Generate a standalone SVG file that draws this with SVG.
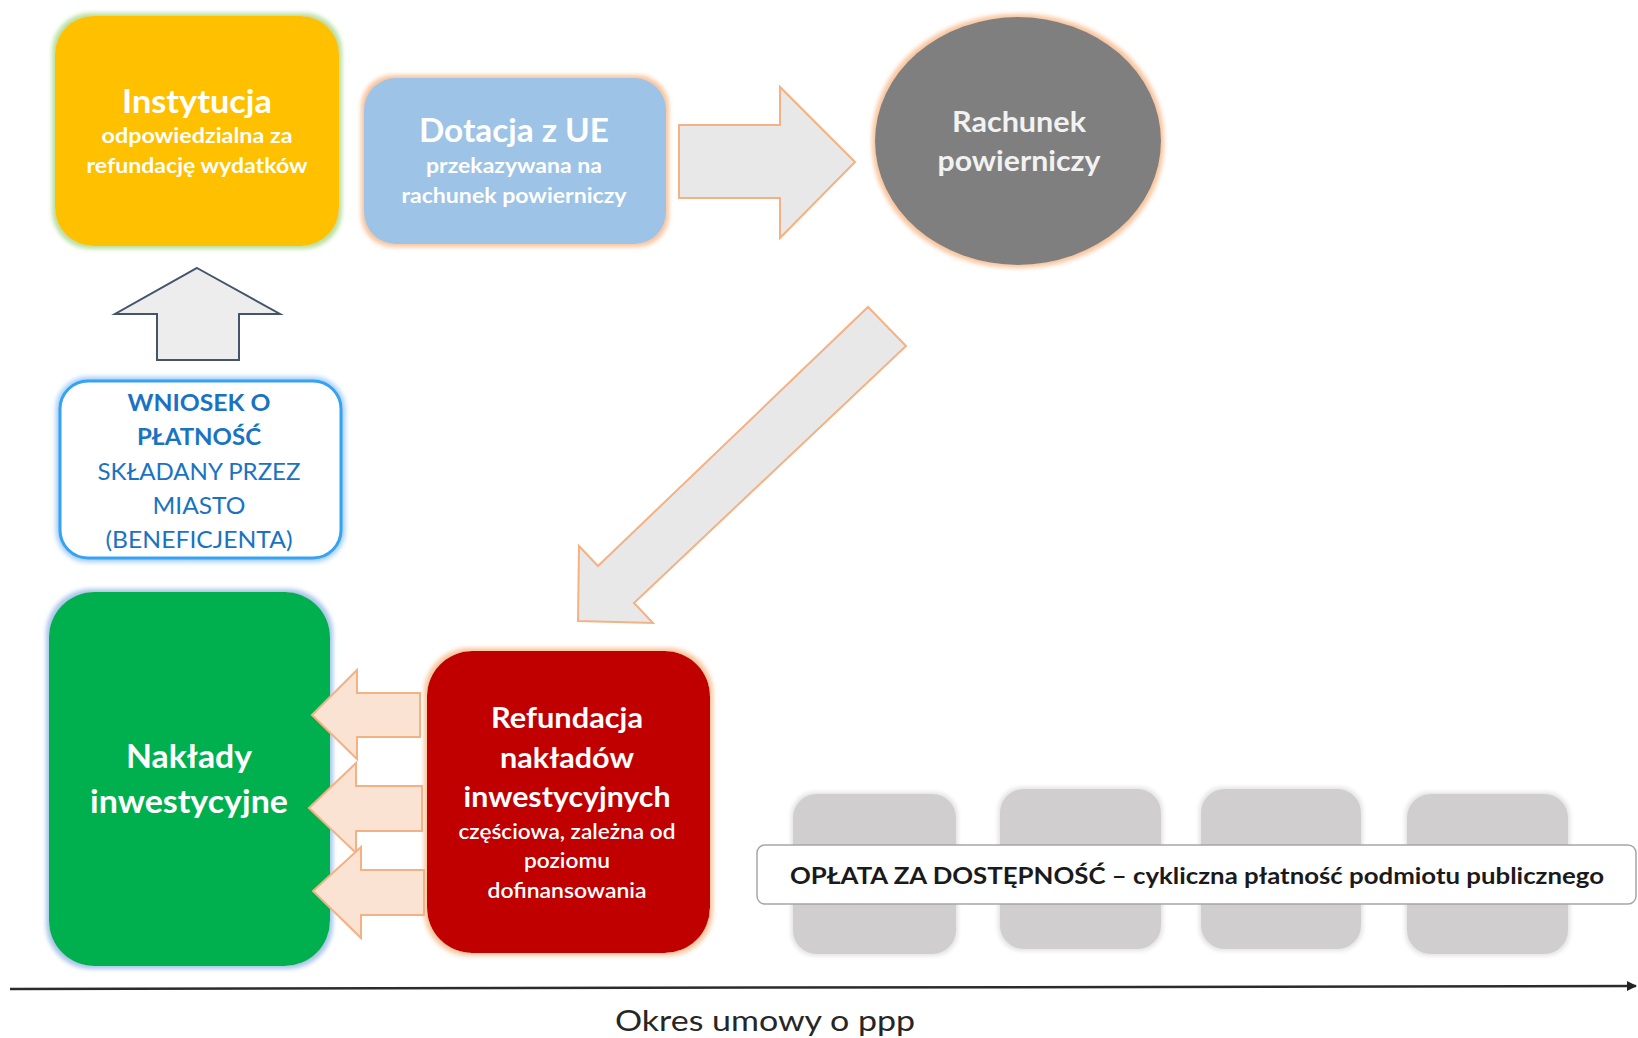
<svg xmlns="http://www.w3.org/2000/svg" width="1638" height="1038" viewBox="0 0 1638 1038">
<defs>
<style>
.t{font-family:Lato,"Open Sans","Liberation Sans",sans-serif;text-anchor:middle}
.b{font-weight:bold}
.w{fill:#FFFFFF}
.blue{fill:#1A73C2}
.blk{fill:#1A1A1A}
.arrG{fill:#E8E8E8;stroke:#F4B183;stroke-width:2}
.arrP{fill:#FBE3D4;stroke:#F4B183;stroke-width:2}
.arrU{fill:#EDEDED;stroke:#44546A;stroke-width:2}
.gbox{fill:#D0CECE}
</style>
<filter id="gGreen" x="-20%" y="-20%" width="140%" height="140%">
<feMorphology in="SourceAlpha" operator="dilate" radius="3" result="d"/>
<feGaussianBlur in="d" stdDeviation="2" result="bl"/>
<feFlood flood-color="#B9E0A0"/>
<feComposite in2="bl" operator="in" result="g"/>
<feMerge><feMergeNode in="g"/><feMergeNode in="SourceGraphic"/></feMerge>
</filter>
<filter id="gOrange" x="-20%" y="-20%" width="140%" height="140%">
<feMorphology in="SourceAlpha" operator="dilate" radius="3" result="d"/>
<feGaussianBlur in="d" stdDeviation="2" result="bl"/>
<feFlood flood-color="#F8C59E"/>
<feComposite in2="bl" operator="in" result="g"/>
<feMerge><feMergeNode in="g"/><feMergeNode in="SourceGraphic"/></feMerge>
</filter>
<filter id="gBlue" x="-20%" y="-20%" width="140%" height="140%">
<feMorphology in="SourceAlpha" operator="dilate" radius="3" result="d"/>
<feGaussianBlur in="d" stdDeviation="2" result="bl"/>
<feFlood flood-color="#A9C6EA"/>
<feComposite in2="bl" operator="in" result="g"/>
<feMerge><feMergeNode in="g"/><feMergeNode in="SourceGraphic"/></feMerge>
</filter>
<filter id="gGray" x="-20%" y="-20%" width="140%" height="140%">
<feMorphology in="SourceAlpha" operator="dilate" radius="2" result="d"/>
<feGaussianBlur in="d" stdDeviation="2" result="bl"/>
<feFlood flood-color="#E3E3E3"/>
<feComposite in2="bl" operator="in" result="g"/>
<feMerge><feMergeNode in="g"/><feMergeNode in="SourceGraphic"/></feMerge>
</filter>
<filter id="gSky" x="-20%" y="-20%" width="140%" height="140%">
<feGaussianBlur in="SourceGraphic" stdDeviation="2.5"/>
</filter>
<marker id="endArr" viewBox="0 0 10 10" refX="9" refY="5" markerWidth="4" markerHeight="4" orient="auto">
<path d="M0,0 L10,5 L0,10 z" fill="#222"/>
</marker>
</defs>

<rect width="1638" height="1038" fill="#FFFFFF"/>

<g id="instytucja">
<rect x="55" y="16" width="284" height="230" rx="38" fill="#FFC000" filter="url(#gGreen)"/>
<text class="t b w" x="197" y="113" font-size="32" textLength="150" lengthAdjust="spacingAndGlyphs">Instytucja</text>
<text class="t b w" x="197" y="143" font-size="21" textLength="191" lengthAdjust="spacingAndGlyphs">odpowiedzialna za</text>
<text class="t b w" x="197" y="173" font-size="21" textLength="221" lengthAdjust="spacingAndGlyphs">refundację wydatków</text>
</g>

<g id="dotacja">
<rect x="364" y="78" width="302" height="166" rx="32" fill="#9DC3E6" filter="url(#gOrange)"/>
<text class="t b w" x="514" y="142" font-size="33" textLength="190" lengthAdjust="spacingAndGlyphs">Dotacja z UE</text>
<text class="t b w" x="514" y="173" font-size="21" textLength="176" lengthAdjust="spacingAndGlyphs">przekazywana na</text>
<text class="t b w" x="514" y="203" font-size="21" textLength="225" lengthAdjust="spacingAndGlyphs">rachunek powierniczy</text>
</g>

<g id="rachunek">
<ellipse cx="1018" cy="141" rx="143" ry="124" fill="#7F7F7F" filter="url(#gOrange)"/>
<text class="t b" fill="#F2F2F2" x="1019" y="132" font-size="29" textLength="134" lengthAdjust="spacingAndGlyphs">Rachunek</text>
<text class="t b" fill="#F2F2F2" x="1019" y="171" font-size="29" textLength="163" lengthAdjust="spacingAndGlyphs">powierniczy</text>
</g>

<g id="wniosek">
<rect x="60" y="381" width="281" height="177" rx="28" fill="none" stroke="#9DCBF5" stroke-width="8" filter="url(#gSky)"/>
<rect x="60" y="381" width="281" height="177" rx="28" fill="#FFFFFF" stroke="#36A2F2" stroke-width="3"/>
<text class="t b blue" x="199" y="411" font-size="23" textLength="143" lengthAdjust="spacingAndGlyphs">WNIOSEK O</text>
<text class="t b blue" x="199" y="445" font-size="23" textLength="124" lengthAdjust="spacingAndGlyphs">PŁATNOŚĆ</text>
<text class="t blue" x="199" y="480" font-size="23" textLength="203" lengthAdjust="spacingAndGlyphs">SKŁADANY PRZEZ</text>
<text class="t blue" x="199" y="514" font-size="23" textLength="93" lengthAdjust="spacingAndGlyphs">MIASTO</text>
<text class="t blue" x="199" y="548" font-size="23" textLength="187" lengthAdjust="spacingAndGlyphs">(BENEFICJENTA)</text>
</g>

<g id="naklady">
<rect x="49" y="592" width="281" height="374" rx="45" fill="#00B050" filter="url(#gBlue)"/>
<text class="t b w" x="189" y="768" font-size="33" textLength="126" lengthAdjust="spacingAndGlyphs">Nakłady</text>
<text class="t b w" x="189" y="813" font-size="33" textLength="198" lengthAdjust="spacingAndGlyphs">inwestycyjne</text>
</g>

<g id="refundacja">
<rect x="427" y="651" width="283" height="302" rx="45" fill="#C00000" filter="url(#gOrange)"/>
<text class="t b w" x="567" y="728" font-size="29" textLength="152" lengthAdjust="spacingAndGlyphs">Refundacja</text>
<text class="t b w" x="567" y="768" font-size="29" textLength="134" lengthAdjust="spacingAndGlyphs">nakładów</text>
<text class="t b w" x="567" y="807" font-size="29" textLength="207" lengthAdjust="spacingAndGlyphs">inwestycyjnych</text>
<text class="t w" font-weight="600" x="567" y="839" font-size="21" textLength="217" lengthAdjust="spacingAndGlyphs">częściowa, zależna od</text>
<text class="t w" font-weight="600" x="567" y="868" font-size="21" textLength="86" lengthAdjust="spacingAndGlyphs">poziomu</text>
<text class="t w" font-weight="600" x="567" y="898" font-size="21" textLength="159" lengthAdjust="spacingAndGlyphs">dofinansowania</text>
</g>

<g id="platnosci">
<rect class="gbox" x="793" y="794" width="163" height="160" rx="24" filter="url(#gGray)"/>
<rect class="gbox" x="1000" y="789" width="161" height="160" rx="24" filter="url(#gGray)"/>
<rect class="gbox" x="1201" y="789" width="160" height="160" rx="24" filter="url(#gGray)"/>
<rect class="gbox" x="1407" y="794" width="161" height="160" rx="24" filter="url(#gGray)"/>
</g>

<g id="oplata">
<rect x="757" y="845" width="879" height="59" rx="8" fill="#FFFFFF" stroke="#A6A6A6" stroke-width="1.5"/>
<text class="t b blk" x="1197" y="884" font-size="23" textLength="814" lengthAdjust="spacingAndGlyphs">OPŁATA ZA DOSTĘPNOŚĆ – cykliczna płatność podmiotu publicznego</text>
</g>

<g id="connectors">
<polygon class="arrG" points="679,125 780,125 780,87 855,162 780,238 780,198 679,198"/>
<polygon class="arrU" points="197,268 280,314 239,314 239,360 157,360 157,314 115,314"/>
<polygon class="arrG" points="868,307 906,346 634,603 653,623 578,621 579,546 598,566"/>
<polygon class="arrP" points="312,715 357,670 357,693 420,693 420,737 357,737 357,759"/>
<polygon class="arrP" points="309,808 356,763 356,786 422,786 422,831 356,831 356,853"/>
<polygon class="arrP" points="313,891 361,847 361,870 424,870 424,915 361,915 361,938"/>
<line x1="10" y1="989" x2="1636" y2="986" stroke="#2B2B2B" stroke-width="2.5" marker-end="url(#endArr)"/>
</g>

<text class="t" fill="#262626" x="765" y="1031" font-size="28" textLength="300" lengthAdjust="spacingAndGlyphs">Okres umowy o ppp</text>
</svg>
